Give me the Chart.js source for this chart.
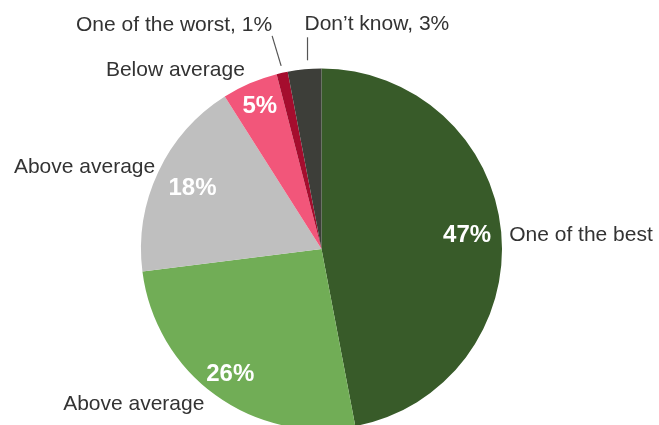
<!DOCTYPE html>
<html><head><meta charset="utf-8">
<script src="https://cdn.jsdelivr.net/npm/chart.js@4/dist/chart.umd.min.js"></script>
<style>html,body{margin:0;padding:0;background:#fff;overflow:hidden;width:659px;height:425px}#wrap{width:659px;height:440px}</style>
</head><body><div id="wrap"><canvas id="c" width="659" height="440"></canvas></div>
<script>
const categories = ["One of the best","Above average","Above average","Below average","One of the worst","Don\u2019t know"];
const values = [47,26,18,5,1,3];
const pctLabels = ["47%","26%","18%","5%","",""];
const outerLabels = ["One of the best","Above average","Above average","Below average","One of the worst, 1%","Don\u2019t know, 3%"];
const colors = ["#385b29","#71ad56","#bfbfbf","#f2567a","#a50d2e","#3d3e39"];

// label layout: inner fraction, outer offsets (dx,dy,align), optional leader line
const layout = [
  {f:0.81, dx:8, dy:3, align:"left"},
  {f:0.86, dx:-11, dy:9, align:"right"},
  {f:0.79, dx:-3, dy:-5, align:"right"},
  {f:0.86, dx:-5, dy:-13, align:"right"},
  {f:0, dx:-10, dy:-48, align:"right", line:[[-1,-7],[-10,-37]]},
  {f:0, dx:0, dy:-45, align:"left", line:[[3,-9],[3,-32]]}
];

const labelPlugin = {
  id:"pieLabels",
  afterDatasetsDraw(chart){
    const ctx = chart.ctx;
    const meta = chart.getDatasetMeta(0);
    meta.data.forEach((arc,i)=>{
      const p = arc.getProps(["x","y","startAngle","endAngle","outerRadius"],true);
      const mid = (p.startAngle+p.endAngle)/2;
      const L = layout[i];
      ctx.save();
      if (pctLabels[i]) {
        ctx.fillStyle="#ffffff";
        ctx.font="bold 24px 'Liberation Sans', Arial, sans-serif";
        ctx.textAlign="center"; ctx.textBaseline="middle";
        ctx.fillText(pctLabels[i], p.x+Math.cos(mid)*p.outerRadius*L.f, p.y+Math.sin(mid)*p.outerRadius*L.f);
      }
      const ox = p.x+Math.cos(mid)*p.outerRadius, oy = p.y+Math.sin(mid)*p.outerRadius;
      if (L.line) {
        ctx.strokeStyle="#555"; ctx.lineWidth=1.2;
        ctx.beginPath();
        ctx.moveTo(ox+L.line[0][0], oy+L.line[0][1]);
        ctx.lineTo(ox+L.line[1][0], oy+L.line[1][1]);
        ctx.stroke();
      }
      ctx.fillStyle="#333333";
      ctx.font="21px 'Liberation Sans', Arial, sans-serif";
      ctx.textAlign=L.align; ctx.textBaseline="middle";
      ctx.fillText(outerLabels[i], ox+L.dx, oy+L.dy);
      ctx.restore();
    });
  }
};

new Chart(document.getElementById("c"),{
  type:"pie",
  data:{labels:categories,datasets:[{data:values,backgroundColor:colors,borderWidth:0}]},
  options:{
    responsive:false,
    animation:false,
    layout:{padding:{left:141,right:157,top:68,bottom:10}},
    plugins:{legend:{display:false},tooltip:{enabled:false}}
  },
  plugins:[labelPlugin]
});
</script></body></html>
